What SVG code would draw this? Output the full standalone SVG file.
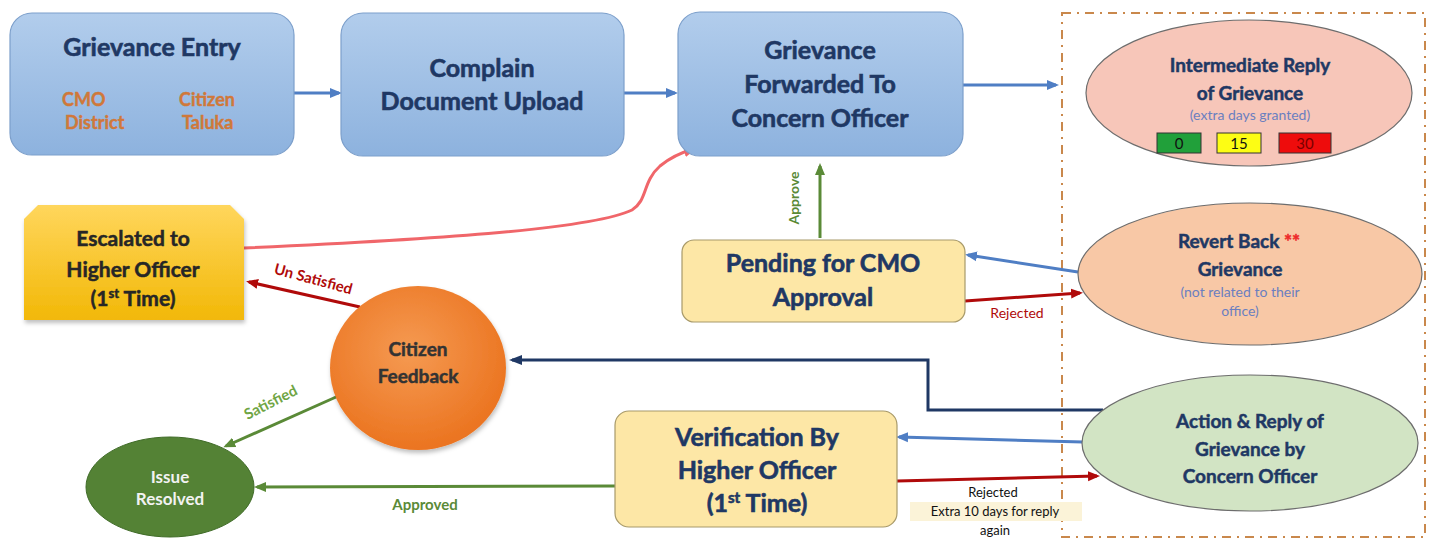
<svg xmlns="http://www.w3.org/2000/svg" width="1431" height="542" viewBox="0 0 1431 542">
<defs>
<linearGradient id="gBlue" x1="0" y1="0" x2="0" y2="1"><stop offset="0" stop-color="#b2cdec"/><stop offset="1" stop-color="#8db2de"/></linearGradient>
<linearGradient id="gGold" x1="0" y1="0" x2="0" y2="1"><stop offset="0" stop-color="#ffd65c"/><stop offset="1" stop-color="#f2b807"/></linearGradient>
<radialGradient id="gOrange" cx="0.45" cy="0.4" r="0.6"><stop offset="0" stop-color="#f59a52"/><stop offset="1" stop-color="#eb7420"/></radialGradient>
<marker id="aBlue" markerWidth="12" markerHeight="12" refX="9" refY="6" orient="auto" markerUnits="userSpaceOnUse"><path d="M0,1 L12,6 L0,11 Z" fill="#4f7ec4"/></marker>
<marker id="aRed" markerWidth="12" markerHeight="12" refX="9" refY="6" orient="auto" markerUnits="userSpaceOnUse"><path d="M0,1 L12,6 L0,11 Z" fill="#b00a0a"/></marker>
<marker id="aPink" markerWidth="13" markerHeight="13" refX="10" refY="6.5" orient="auto" markerUnits="userSpaceOnUse"><path d="M0,1 L13,6.5 L0,12 Z" fill="#f0666a"/></marker>
<marker id="aGreen" markerWidth="12" markerHeight="12" refX="9" refY="6" orient="auto" markerUnits="userSpaceOnUse"><path d="M0,1 L12,6 L0,11 Z" fill="#5a8a37"/></marker>
<marker id="aNavy" markerWidth="13" markerHeight="12" refX="10" refY="6" orient="auto" markerUnits="userSpaceOnUse"><path d="M0,1 L13,6 L0,11 Z" fill="#1f3864"/></marker>
<filter id="sh" x="-10%" y="-10%" width="120%" height="130%"><feDropShadow dx="1" dy="3" stdDeviation="2" flood-color="#000" flood-opacity="0.25"/></filter>
</defs>
<style>
text{font-family:Lato,"Open Sans","Liberation Sans",sans-serif;font-weight:700;text-anchor:middle}
.t{font-size:25px;fill:#1f3864;stroke:#1f3864;stroke-width:0.6}
.ts{font-size:18px;fill:#d0783a;text-anchor:start;stroke:#d0783a;stroke-width:0.4}
.blue{fill:url(#gBlue);stroke:#7c9fcb;stroke-width:1.2}
.yel{fill:#fde7a6;stroke:#a89a6a;stroke-width:1.2}
.ell{stroke:#6d6d6d;stroke-width:1.2}
.e1{font-size:19px;fill:#1f3864;stroke:#1f3864;stroke-width:0.5}
.sub{font-size:14px;fill:#6b7fc0;font-weight:400}
.lbl{font-size:15px}
.c{fill:none;stroke-width:3}
.dk{stroke-width:0.5}
</style>

<rect x="1062" y="13" width="363" height="524" fill="none" stroke="#c9884c" stroke-width="2" stroke-dasharray="9 6 2 6"/>

<g id="connectors">
<line class="c" x1="294" y1="93" x2="339" y2="93" stroke="#4f7ec4" marker-end="url(#aBlue)"/>
<line class="c" x1="624" y1="93" x2="675" y2="93" stroke="#4f7ec4" marker-end="url(#aBlue)"/>
<line class="c" x1="963" y1="85" x2="1056" y2="85" stroke="#4f7ec4" marker-end="url(#aBlue)"/>
<path class="c" d="M244,248 C420,240 590,230 632,210 C648,200 642,182 660,166 C672,156 683,152 694,149" stroke="#f0666a" marker-end="url(#aPink)"/>
<line class="c" x1="820" y1="238" x2="820" y2="166" stroke="#5a8a37" marker-end="url(#aGreen)"/>
<text class="lbl" transform="translate(799,198) rotate(-90)" fill="#5a8a37" style="font-size:14px">Approve</text>
<line class="c" x1="1078" y1="272" x2="968" y2="255" stroke="#4f7ec4" marker-end="url(#aBlue)"/>
<line class="c" x1="965" y1="301" x2="1080" y2="293" stroke="#b00a0a" marker-end="url(#aRed)"/>
<text class="lbl" x="1017" y="318" fill="#b00a0a" style="font-size:14px;font-weight:400">Rejected</text>
<polyline class="c" points="1103,410 928,410 928,360 512,360" stroke="#1f3864" marker-end="url(#aNavy)"/>
<line class="c" x1="1083" y1="442" x2="899" y2="437" stroke="#4f7ec4" marker-end="url(#aBlue)"/>
<line class="c" x1="897" y1="481" x2="1097" y2="476" stroke="#b00a0a" marker-end="url(#aRed)"/>
<rect x="910" y="502" width="172" height="19" fill="#fbf3d8"/>
<text x="993" y="497" fill="#111" style="font-size:13px;font-weight:400">Rejected</text>
<text x="995" y="516" fill="#111" style="font-size:13px;font-weight:400">Extra 10 days for reply</text>
<text x="995" y="535" fill="#111" style="font-size:13px;font-weight:400">again</text>
<line class="c" x1="360" y1="307" x2="249" y2="282" stroke="#b00a0a" marker-end="url(#aRed)"/>
<text class="lbl" transform="translate(312,284) rotate(15)" fill="#b00a0a" style="font-size:15px">Un Satisfied</text>
<line class="c" x1="345" y1="393" x2="226" y2="446" stroke="#5a8a37" marker-end="url(#aGreen)"/>
<text class="lbl" transform="translate(273,407) rotate(-27)" fill="#6fa544" style="font-size:15px">Satisfied</text>
<line class="c" x1="615" y1="486" x2="257" y2="487" stroke="#5a8a37" marker-end="url(#aGreen)"/>
<text class="lbl" x="425" y="510" fill="#5a8a37" style="font-size:15px">Approved</text>
</g>

<g id="grievance-entry">
<rect class="blue" x="10" y="13" width="284" height="142" rx="22"/>
<text class="t" x="152" y="56">Grievance Entry</text>
<text class="ts" x="62" y="106">CMO</text>
<text class="ts" x="65" y="129">District</text>
<text class="ts" x="179" y="106">Citizen</text>
<text class="ts" x="182" y="129">Taluka</text>
</g>

<g id="document-upload">
<rect class="blue" x="341" y="13" width="283" height="143" rx="22"/>
<text class="t" x="482" y="77">Complain</text>
<text class="t" x="482" y="110">Document Upload</text>
</g>

<g id="forwarded">
<rect class="blue" x="678" y="12" width="285" height="144" rx="22"/>
<text class="t" x="820" y="59">Grievance</text>
<text class="t" x="820" y="93">Forwarded To</text>
<text class="t" x="820" y="127">Concern Officer</text>
</g>

<g id="intermediate-reply">
<ellipse class="ell" cx="1249" cy="93" rx="163" ry="73" fill="#f7c6b9"/>
<text class="e1" x="1250" y="72">Intermediate Reply</text>
<text class="e1" x="1250" y="100">of Grievance</text>
<text class="sub" x="1250" y="120">(extra days granted)</text>
<rect x="1157" y="133" width="44" height="20" fill="#21a03a" stroke="#333" stroke-width="1"/>
<rect x="1217" y="133" width="44" height="20" fill="#fdfd14" stroke="#333" stroke-width="1"/>
<rect x="1279" y="133" width="52" height="20" fill="#ee0c0c" stroke="#333" stroke-width="1"/>
<text x="1179" y="149" fill="#111" style="font-size:15px;font-weight:400">0</text>
<text x="1239" y="149" fill="#111" style="font-size:15px;font-weight:400">15</text>
<text x="1305" y="149" fill="#7a0000" style="font-size:15px;font-weight:400">30</text>
</g>

<g id="revert-back">
<ellipse class="ell" cx="1250" cy="274" rx="172" ry="71" fill="#f8c8a6"/>
<text class="e1" x="1239" y="248">Revert Back <tspan fill="#ee2b2b" stroke="#ee2b2b">**</tspan></text>
<text class="e1" x="1240" y="276">Grievance</text>
<text class="sub" x="1240" y="297">(not related to their</text>
<text class="sub" x="1240" y="316">office)</text>
</g>

<g id="action-reply">
<ellipse class="ell" cx="1250" cy="443" rx="168" ry="68" fill="#d2e4c4"/>
<text class="e1" x="1250" y="428">Action &amp; Reply of</text>
<text class="e1" x="1250" y="456">Grievance by</text>
<text class="e1" x="1250" y="483">Concern Officer</text>
</g>

<g id="pending-cmo">
<rect class="yel" x="682" y="240" width="283" height="82" rx="12"/>
<text class="t" x="823" y="272">Pending for CMO</text>
<text class="t" x="823" y="306">Approval</text>
</g>

<g id="verification">
<rect class="yel" x="615" y="411" width="282" height="116" rx="14"/>
<text class="t" x="757" y="446">Verification By</text>
<text class="t" x="757" y="479">Higher Officer</text>
<text class="t" x="757" y="512">(1<tspan dy="-9" style="font-size:15px">st</tspan><tspan dy="9"> Time)</tspan></text>
</g>

<g id="escalated">
<path d="M38,205 L230,205 L244,219 L244,320 L24,320 L24,219 Z" fill="url(#gGold)" filter="url(#sh)"/>
<text class="dk" x="133" y="246" fill="#262626" stroke="#262626" style="font-size:21px">Escalated to</text>
<text class="dk" x="133" y="277" fill="#262626" stroke="#262626" style="font-size:21px">Higher Officer</text>
<text class="dk" x="133" y="306" fill="#262626" stroke="#262626" style="font-size:21px">(1<tspan dy="-8" style="font-size:13px">st</tspan><tspan dy="8"> Time)</tspan></text>
</g>

<g id="citizen-feedback">
<ellipse cx="418" cy="368" rx="88" ry="82" fill="url(#gOrange)" filter="url(#sh)"/>
<text class="dk" x="418" y="356" fill="#333" stroke="#333" style="font-size:19px">Citizen</text>
<text class="dk" x="418" y="383" fill="#333" stroke="#333" style="font-size:19px">Feedback</text>
</g>

<g id="issue-resolved">
<ellipse cx="170" cy="487" rx="84" ry="50" fill="#548235" stroke="#3f6b27" stroke-width="1"/>
<text x="170" y="483" fill="#f2f2f2" style="font-size:17px">Issue</text>
<text x="170" y="505" fill="#f2f2f2" style="font-size:17px">Resolved</text>
</g>
</svg>
